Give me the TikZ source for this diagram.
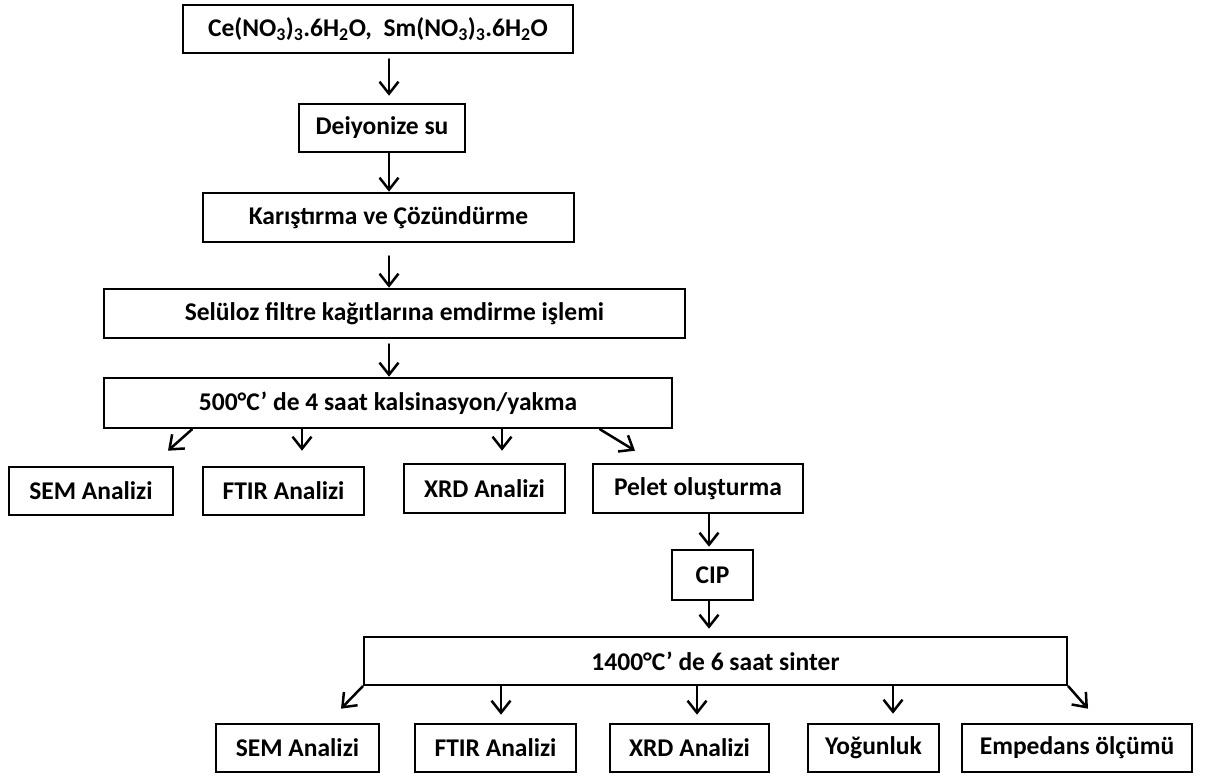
\documentclass[tikz,border=0pt]{standalone}
\usepackage{fontspec}
\setmainfont{Carlito}
\usetikzlibrary{arrows.meta,calc}
\tikzset{
  box/.style={draw=black, line width=2.6pt, rectangle, inner sep=0pt,
    font=\fontsize{25.5}{30}\selectfont\bfseries},
  arr/.style={line width=2.5pt, line cap=round,
    -{Straight Barb[length=12pt,width=19pt,line width=2.5pt]}}
}
\begin{document}
\begin{tikzpicture}[x=1pt,y=-1pt]
\useasboundingbox (0,0) rectangle (1207,776);
% main chain
\node[box, minimum width=390pt, minimum height=48pt] (ce) at (378,29)
  {Ce(NO\textsubscript{3})\textsubscript{3}.6H\textsubscript{2}O,\hspace{0.45em}Sm(NO\textsubscript{3})\textsubscript{3}.6H\textsubscript{2}O};
\node[box, minimum width=166pt, minimum height=48pt] (dei) at (382,128) {Deiyonize su};
\node[box, minimum width=371pt, minimum height=49pt] (kar) at (388.5,217.5) {Karıştırma ve Çözündürme\hspace{27pt}};
\node[box, minimum width=581pt, minimum height=49pt] (sel) at (394.5,313.5) {Selüloz filtre kağıtlarına emdirme işlemi\hspace{57pt}};
\node[box, minimum width=568pt, minimum height=50pt] (kal) at (388,403) {500°C’ de 4 saat kalsinasyon/yakma\hspace{72pt}};
% first row
\node[box, minimum width=164pt, minimum height=48pt] (sem1) at (91,491) {SEM Analizi};
\node[box, minimum width=161pt, minimum height=48pt] (ftir1) at (283.5,491) {FTIR Analizi};
\node[box, minimum width=161pt, minimum height=49pt] (xrd1) at (484.5,488.5) {XRD Analizi};
\node[box, minimum width=210pt, minimum height=49pt] (pel) at (698,488.5) {Pelet oluşturma};
\node[box, minimum width=81pt, minimum height=50pt] (cip) at (712.5,575) {CIP};
\node[box, minimum width=703pt, minimum height=48pt] (sin) at (715.5,661) {1400°C’ de 6 saat sinter\hspace{73pt}};
% bottom row
\node[box, minimum width=163pt, minimum height=48pt] (sem2) at (297.5,748) {SEM Analizi};
\node[box, minimum width=161pt, minimum height=48pt] (ftir2) at (495.5,748) {FTIR Analizi};
\node[box, minimum width=159pt, minimum height=48pt] (xrd2) at (689.5,748) {XRD Analizi};
\node[box, minimum width=131pt, minimum height=48pt] (yog) at (873.5,748) {Yoğunluk};
\node[box, minimum width=230pt, minimum height=48pt] (emp) at (1077,748) {Empedans ölçümü};
% connectors
\coordinate (colA) at (389,0);
\draw[arr] ($(ce.south -| colA)+(0,5)$) -- ($(dei.north -| colA)+(0,-7)$);
\draw[arr] (dei.south -| colA) -- (kar.north -| colA);
\draw[arr] ($(kar.south -| colA)+(0,13)$) -- (sel.north -| colA);
\draw[arr] ($(sel.south -| colA)+(0,5)$) -- (kal.north -| colA);
\draw[arr] ($(kal.south)+(-196,0)$) -- ($(sem1.north)+(77,-15)$);
\draw[arr] ($(kal.south)+(-86,0)$) -- ($(ftir1.north)+(18.5,-15)$);
\draw[arr] ($(kal.south)+(114,0)$) -- ($(xrd1.north)+(17.5,-12)$);
\draw[arr] ($(kal.south)+(212,0)$) -- ($(pel.north)+(-63,-12)$);
\draw[arr] ($(pel.south)+(11,0)$) -- ($(cip.north)+(-3.5,-2)$);
\draw[arr] ($(cip.south)+(-3.5,0)$) -- ($(sin.north)+(-6.5,-7)$);
\draw[arr] (sin.south west) -- ($(sem2.north)+(43.5,-14)$);
\draw[arr] ($(sin.south)+(-214.5,0)$) -- ($(ftir2.north)+(5.5,-8)$);
\draw[arr] ($(sin.south)+(-18.5,0)$) -- ($(xrd2.north)+(7.5,-8)$);
\draw[arr] ($(sin.south)+(177.5,0)$) -- ($(yog.north)+(19.5,-9)$);
\draw[arr] (sin.south east) -- ($(emp.north)+(11,-14)$);
\end{tikzpicture}
\end{document}
